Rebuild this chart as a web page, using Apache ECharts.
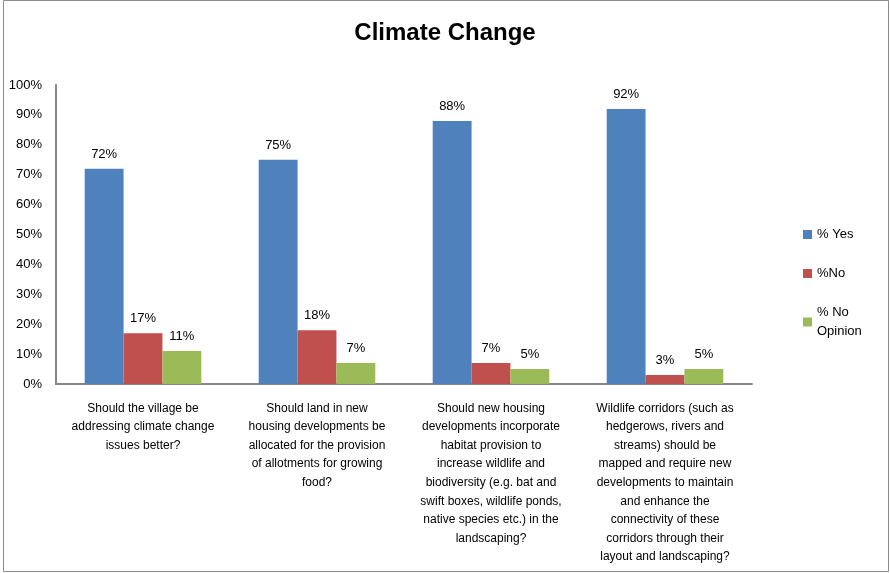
<!DOCTYPE html>
<html><head><meta charset="utf-8">
<script src="https://cdn.jsdelivr.net/npm/echarts@6/dist/echarts.min.js"></script>
<style>html,body{margin:0;padding:0;background:#fff}#c{width:890px;height:573px}</style>
</head><body><div id="c"></div>
<script>
var categories = [
  "Should the village be\naddressing climate change\nissues better?",
  "Should land in new\nhousing developments be\nallocated for the provision\nof allotments for growing\nfood?",
  "Should new housing\ndevelopments incorporate\nhabitat provision to\nincrease wildlife and\nbiodiversity (e.g. bat and\nswift boxes, wildlife ponds,\nnative species etc.) in the\nlandscaping?",
  "Wildlife corridors (such as\nhedgerows, rivers and\nstreams) should be\nmapped and require new\ndevelopments to maintain\nand enhance the\nconnectivity of these\ncorridors through their\nlayout and landscaping?"
];
var seriesNames = ["% Yes", "%No", "% No\nOpinion"];
var yes = [72, 75, 88, 92];
var no = [17, 18, 7, 3];
var noOpinion = [11, 7, 5, 5];
var yTicks = [0,10,20,30,40,50,60,70,80,90,100];
var colors = ["#4F81BD", "#C0504D", "#9BBB59"];
var font = "'Liberation Sans Narrow', 'Liberation Sans', sans-serif";

var chart = echarts.init(document.getElementById('c'));
function mk(name, data, color) {
  return {
    name: name, type: 'bar', data: data, barGap: '0%', barCategoryGap: '33%',
    itemStyle: {color: color},
    label: {show: true, position: 'top', formatter: '{c}%', color: '#000', fontSize: 13, fontFamily: font, distance: 8}
  };
}
chart.setOption({
  animation: false,
  backgroundColor: '#fff',
  title: {text: 'Climate Change', left: 'center', top: 16, textStyle: {fontSize: 24, fontWeight: 'bold', color: '#000', fontFamily: font}},
  legend: {
    orient: 'vertical', left: 798, top: 220, itemWidth: 9, itemHeight: 9, itemGap: 20, itemStyle: {borderWidth: 0},
    data: seriesNames, icon: 'rect',
    textStyle: {fontSize: 13, color: '#000', fontFamily: font, lineHeight: 19}
  },
  grid: {left: 56, right: 138, top: 85, bottom: 189},
  xAxis: {
    type: 'category', data: categories,
    axisLine: {lineStyle: {color: '#868686', width: 2}},
    axisTick: {show: false},
    axisLabel: {interval: 0, color: '#000', fontSize: 12, fontFamily: font, lineHeight: 18.6, margin: 15}
  },
  yAxis: {
    type: 'value', min: 0, max: 100, interval: 10,
    axisLine: {show: true, lineStyle: {color: '#868686', width: 2}},
    axisTick: {show: false},
    splitLine: {show: false},
    axisLabel: {formatter: function(v){return yTicks.indexOf(v) >= 0 ? v + '%' : '';}, color: '#000', fontSize: 13, fontFamily: font, margin: 14}
  },
  series: [mk(seriesNames[0], yes, colors[0]), mk(seriesNames[1], no, colors[1]), mk(seriesNames[2], noOpinion, colors[2])],
  graphic: [{type: 'rect', shape: {x: 3.5, y: 0.5, width: 885, height: 571}, style: {fill: 'none', stroke: '#8c8c8c', lineWidth: 1}, z: 100}]
});
</script></body></html>
